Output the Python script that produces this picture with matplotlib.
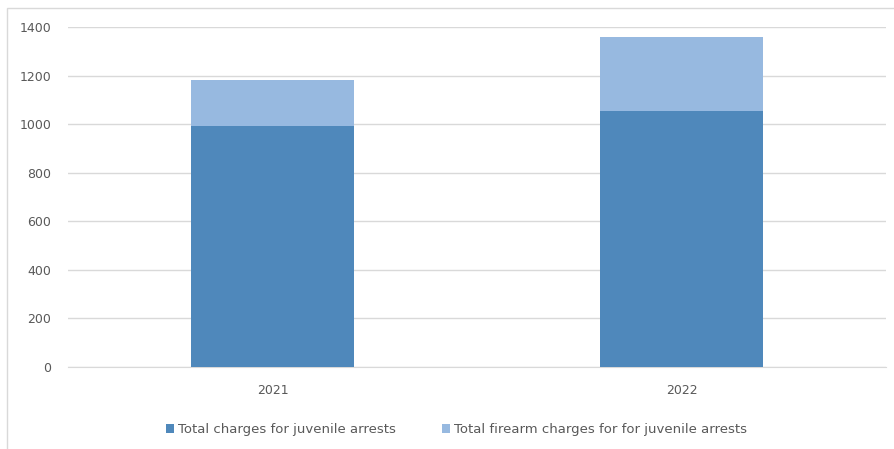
import numpy as np
import matplotlib.pyplot as plt
from matplotlib.patches import Rectangle

# Data
years = ['2021', '2022']
total_charges = [993, 1054]
firearm_charges = [188, 303]

dark_blue = '#4F88BB'
light_blue = '#97B9E0'
text_col = '#595959'

fig = plt.figure(figsize=(8.94, 4.49), dpi=100)
ax = fig.add_axes([68/894, 1 - 367/449, 818/894, 340/449])

x = np.arange(len(years))
ax.bar(x, total_charges, width=0.4, color=dark_blue, label='Total charges for juvenile arrests', zorder=3)
ax.bar(x, firearm_charges, width=0.4, bottom=total_charges, color=light_blue,
       label='Total firearm charges for for juvenile arrests', zorder=3)

ax.set_xlim(-0.5, 1.5)
ax.set_ylim(0, 1400)
ax.set_yticks(np.arange(0, 1401, 200))
ax.set_xticks(x)
ax.set_xticklabels(years)
ax.yaxis.grid(True, color='#D9D9D9', linewidth=1, zorder=0)
for side in ['top', 'right', 'left']:
    ax.spines[side].set_visible(False)
ax.spines['bottom'].set_color('#D9D9D9')
ax.tick_params(axis='both', length=0, colors=text_col, labelsize=9)
ax.tick_params(axis='y', pad=12)
ax.tick_params(axis='x', pad=12)

leg = ax.legend(loc='upper center', bbox_to_anchor=(0.475, -0.13), ncol=2, frameon=False,
                fontsize=9.5, handlelength=0.6, handleheight=0.6, columnspacing=3.5, handletextpad=0.3)
for t in leg.get_texts():
    t.set_color(text_col)

# chart border
fig.patches.append(Rectangle((7/894, -0.01), 1.0, 1 - 8/449 + 0.01,
                             transform=fig.transFigure, fill=False, edgecolor='#D9D9D9', linewidth=1))

fig.savefig('out.png', dpi=100)
